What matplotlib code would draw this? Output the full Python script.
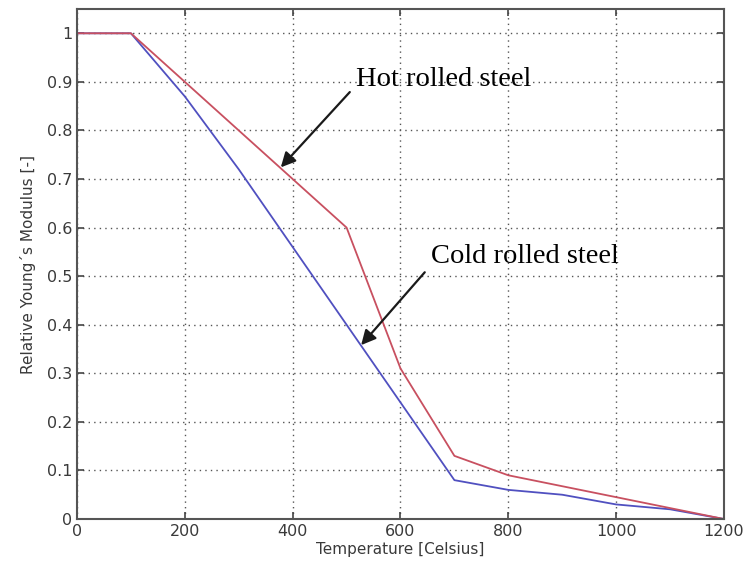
import matplotlib
matplotlib.use('Agg')
import matplotlib.pyplot as plt

# temperature points [Celsius]
temps = [0, 100, 200, 300, 400, 500, 600, 700, 800, 900, 1000, 1100, 1200]
# relative Young's modulus
hot_rolled = [1.0, 1.0, 0.9, 0.8, 0.7, 0.6, 0.31, 0.13, 0.09, 0.0675, 0.045, 0.0225, 0.0]
cold_rolled = [1.0, 1.0, 0.87, 0.72, 0.56, 0.40, 0.24, 0.08, 0.06, 0.05, 0.03, 0.02, 0.0]

x_ticks = [0, 200, 400, 600, 800, 1000, 1200]
y_ticks = [0, 0.1, 0.2, 0.3, 0.4, 0.5, 0.6, 0.7, 0.8, 0.9, 1]
y_labels = ['0', '0.1', '0.2', '0.3', '0.4', '0.5', '0.6', '0.7', '0.8', '0.9', '1']

fig = plt.figure(figsize=(7.46, 5.77), dpi=100)
ax = fig.add_axes([0.1032, 0.1005, 0.8673, 0.8839])

ax.plot(temps, cold_rolled, color='#5050c0', lw=1.3)
ax.plot(temps, hot_rolled, color='#c85060', lw=1.3)

ax.set_xlim(0, 1200)
ax.set_ylim(0, 1.05)
ax.set_xticks(x_ticks)
ax.set_yticks(y_ticks)
ax.set_yticklabels(y_labels)
ax.grid(True, linestyle=(0, (1, 3)), color='#555555', lw=1.0)
ax.tick_params(direction='in', length=5, width=1.2, colors='#444444',
               labelsize=11.5, labelcolor='#3a3a3a', top=True, right=True)
for s in ax.spines.values():
    s.set_color('#555555')
    s.set_linewidth(1.5)

ax.set_xlabel('Temperature [Celsius]', fontsize=11, color='#3a3a3a', labelpad=2)
ax.set_ylabel('Relative Young´s Modulus [-]', fontsize=11, color='#3a3a3a', labelpad=8)

# annotations: text with separate arrows
serif = ['Liberation Serif', 'DejaVu Serif']
arrow = dict(arrowstyle='-|>', color='#1a1a1a', lw=1.6,
             mutation_scale=22, shrinkA=0, shrinkB=0)
ax.text(517, 0.891, 'Hot rolled steel', fontsize=20.5, family=serif,
        color='black', va='baseline', ha='left')
ax.annotate('', xy=(378, 0.724), xytext=(506, 0.879), arrowprops=arrow)
ax.text(657, 0.527, 'Cold rolled steel', fontsize=20.5, family=serif,
        color='black', va='baseline', ha='left')
ax.annotate('', xy=(527, 0.358), xytext=(645, 0.508), arrowprops=arrow)

fig.savefig('out.png', dpi=100)
